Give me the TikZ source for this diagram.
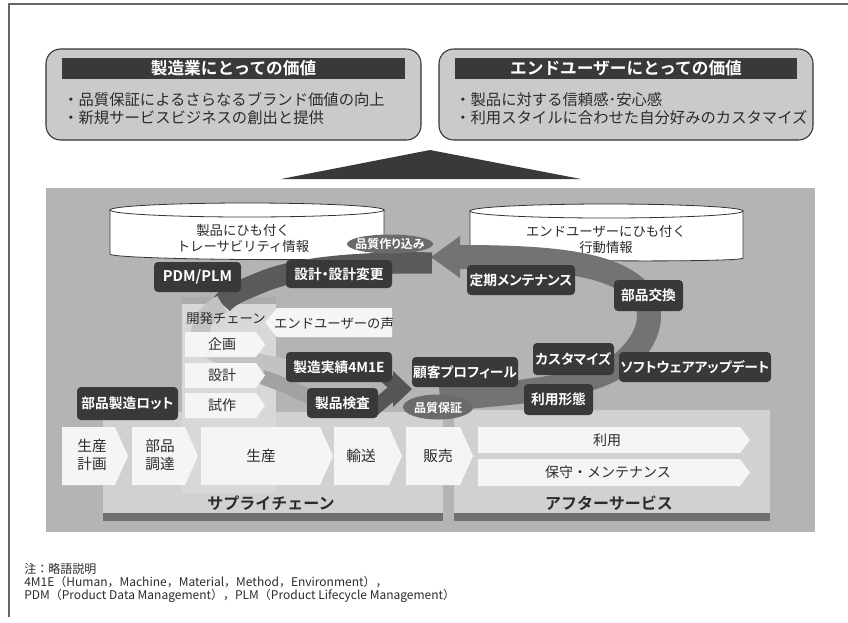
\documentclass[tikz,border=0pt]{standalone}
\usepackage{fontspec}
\setmainfont{Noto Sans CJK JP}[BoldFont={Noto Sans CJK JP Bold}]
\newfontfamily\pfont{Noto Sans CJK JP}[BoldFont={Noto Sans CJK JP Bold},RawFeature={+palt}]
\usetikzlibrary{shapes.geometric}
\definecolor{dk}{HTML}{3B3838}
\definecolor{dkline}{HTML}{333333}
\definecolor{bgc}{HTML}{B4B4B4}
\definecolor{vboxc}{HTML}{C9CACA}
\definecolor{panelc}{HTML}{D1D1D1}
\definecolor{devc}{HTML}{D8D8D8}
\definecolor{devtop}{HTML}{ABABAB}
\definecolor{chevc}{HTML}{F5F5F5}
\definecolor{barc}{HTML}{707070}
\definecolor{loopc}{HTML}{737373}
\definecolor{bandA}{HTML}{5A5A5A}
\definecolor{arcB}{HTML}{C2C2C2}
\definecolor{bandC}{HTML}{A2A2A2}
\definecolor{bandD}{HTML}{555555}
\definecolor{ellc}{HTML}{6B6B6B}
\definecolor{framec}{HTML}{666666}
\definecolor{txtc}{HTML}{2B2B2B}
\newcommand{\chevpath}[5]{\fill[chevc] (#1,#2) -- ({#3-#5},#2) -- (#3,{(#2+#4)/2}) -- ({#3-#5},#4) -- (#1,#4) -- cycle;}
\tikzset{
  darkbox/.style={fill=dk, rounded corners=3pt, text=white, font=\pfont\bfseries\fontsize{10.3}{12}\selectfont, inner sep=0pt},
  vbox/.style={draw=dkline, fill=vboxc, rounded corners=11pt, line width=0.8pt, inner sep=0pt},
  headbar/.style={fill=dk, text=white, font=\bfseries\fontsize{12.5}{14}\selectfont, inner sep=0pt},
  bullets/.style={font=\fontsize{11.5}{13.5}\selectfont, align=left, inner sep=0pt, text=txtc},
  cyltext/.style={font=\fontsize{10}{12}\selectfont, align=center, inner sep=0pt, text=txtc},
  chevtext/.style={font=\fontsize{10.5}{13.5}\selectfont, align=center, inner sep=0pt, text=txtc},
  elltext/.style={font=\pfont\bfseries\fontsize{9}{10}\selectfont, text=white, inner sep=0pt},
  biglabel/.style={font=\bfseries\fontsize{12}{14}\selectfont, text=txtc, inner sep=0pt},
  foot/.style={font=\fontsize{9}{10}\selectfont, align=left, inner sep=0pt, text=txtc},
  cyl/.style={fill=white, draw=dkline, line width=0.6pt}
}
\begin{document}
\begin{tikzpicture}[x=0.75pt,y=-0.75pt]
\useasboundingbox (0,0) rectangle (848,622);
\fill[white] (0,0) rectangle (848,622);
% frame
\draw[framec, line width=0.9pt] (848,4) -- (9,4) -- (9,617);

% value boxes
\node[vbox, minimum width=281.25pt, minimum height=68.25pt] (mfg) at (233.5,94.5) {};
\node[vbox, minimum width=280.5pt, minimum height=68.25pt] (usr) at (626,94.5) {};
\node[headbar, minimum width=257.25pt, minimum height=15.75pt] (mfghead) at (233.5,68.5) {製造業にとっての価値};
\node[headbar, minimum width=256.5pt, minimum height=15.75pt] (usrhead) at (626,68.5) {エンドユーザーにとっての価値};
\node[bullets, anchor=west] (mfgtxt) at (63,109) {・品質保証によるさらなるブランド価値の向上\\・新規サービスビジネスの創出と提供};
\node[bullets, anchor=west] (usrtxt) at (455,109) {・製品に対する信頼感･安心感\\・利用スタイルに合わせた自分好みのカスタマイズ};

% triangle
\fill[dk] (281,179) -- (430,150) -- (581,179) -- cycle;

% main gray area
\fill[bgc] (46,188) rectangle (815,532);

% cylinders
\filldraw[cyl] (110,210) -- (110,254) .. controls (110,260) and (384,262) .. (384,256) -- (384,210) -- cycle;
\filldraw[cyl] (247,210) ellipse [x radius=137, y radius=7];
\filldraw[cyl] (470,211) -- (470,256) .. controls (470,261) and (743,263) .. (743,258) -- (743,211) -- cycle;
\filldraw[cyl] (606.5,211) ellipse [x radius=136.5, y radius=7];
\node[cyltext] (cylL) at (243,238) {製品にひも付く\\トレーサビリティ情報};
\node[cyltext] (cylR) at (606,239) {エンドユーザーにひも付く\\行動情報};

% panels
\fill[panelc] (103,412) rectangle (443,513);
\fill[barc] (103,513) rectangle (443,521);
\fill[panelc] (454,410) rectangle (770,513);
\fill[barc] (454,513) rectangle (770,521);
\fill[devc] (182,297) rectangle (276,493);
\fill[devtop] (182,297) rectangle (276,304);

% bands
\draw[loopc, line width=18pt] (440,399) .. controls (530,392) and (600,386) .. (628,358) .. controls (656,330) and (656,300) .. (628,282) .. controls (595,260) and (530,257) .. (458,257);
\fill[loopc] (460,236) -- (431,257) -- (460,278) -- cycle;
\draw[bandA, line width=16pt] (432,263) .. controls (370,262) and (300,266) .. (262,282) .. controls (240,291) and (228,296) .. (222,304);
\draw[arcB, line width=14pt] (222,304) .. controls (190,322) and (192,352) .. (240,360) .. controls (260,363) and (275,366) .. (292,370);
\draw[bandC, line width=11pt] (262,377) .. controls (280,383) and (295,390) .. (312,398);
\draw[bandD, line width=11pt] (372,410) -- (396,390);
\draw[bandD, line width=9pt] (385,377) -- (396,387);
\fill[bandD] (393,371) -- (412,389) -- (393,407) -- cycle;

% ellipses
\fill[ellc] (390,244) ellipse [x radius=43, y radius=9.5];
\node[elltext] (tsukuri) at (390,244) {品質作り込み};
\fill[ellc] (438,407) ellipse [x radius=35, y radius=12.5];
\node[elltext] (hosho) at (438,407.5) {品質保証};

% development chain
\node[font=\fontsize{10}{12}\selectfont, text=txtc, inner sep=0pt, anchor=west] (devchain) at (186,318) {開発チェーン};
\fill[chevc] (265,322.5) -- (277,308) -- (392,308) -- (392,337) -- (277,337) -- cycle;
\node[font=\fontsize{10}{12}\selectfont, text=txtc, inner sep=0pt] (voice) at (334,323) {エンドユーザーの声};
\chevpath{185}{332}{265}{357}{9}
\node[chevtext] (kikaku) at (222,344.5) {企画};
\chevpath{185}{363}{265}{388}{9}
\node[chevtext] (sekkei) at (222,375.5) {設計};
\chevpath{185}{393}{265}{418}{9}
\node[chevtext] (shisaku) at (222,405.5) {試作};

% supply chain chevrons
\chevpath{62}{427}{128}{485}{13}
\node[chevtext, font=\fontsize{11}{13.5}\selectfont] (keikaku) at (92,455) {生産\\計画};
\chevpath{132}{427}{198}{485}{13}
\node[chevtext, font=\fontsize{11}{13.5}\selectfont] (chotatsu) at (160,455) {部品\\調達};
\chevpath{201}{427}{333}{485}{13}
\node[chevtext, font=\fontsize{11}{13.5}\selectfont] (seisan) at (261,456) {生産};
\chevpath{334}{427}{402}{485}{13}
\node[chevtext, font=\fontsize{11}{13.5}\selectfont] (yuso) at (361,456) {輸送};
\chevpath{406}{427}{473}{485}{13}
\node[chevtext, font=\fontsize{11}{13.5}\selectfont] (hanbai) at (438,456) {販売};
\chevpath{478}{427}{750}{453}{10}
\node[chevtext] (riyo) at (607,440) {利用};
\chevpath{478}{459}{750}{486}{10}
\node[chevtext] (hoshu) at (608,472.5) {保守・メンテナンス};
\node[biglabel] (supply) at (271,503) {サプライチェーン};
\node[biglabel] (after) at (609,503) {アフターサービス};

% dark boxes
\node[darkbox, minimum width=65.25pt, minimum height=22.5pt, font=\pfont\bfseries\fontsize{11}{12}\selectfont] (pdm) at (197.5,277) {PDM/PLM};
\node[darkbox, minimum width=79.5pt, minimum height=21pt] (henko) at (339,274) {設計・設計変更};
\node[darkbox, minimum width=79.5pt, minimum height=22.5pt] (jisseki) at (339,367) {製造実績4M1E};
\node[darkbox, minimum width=53.25pt, minimum height=22.5pt] (kensa) at (342.5,403) {製品検査};
\node[darkbox, minimum width=75.75pt, minimum height=24.75pt] (lot) at (127.5,403.5) {部品製造ロット};
\node[darkbox, minimum width=79.5pt, minimum height=22.5pt] (kokyaku) at (465,372) {顧客プロフィール};
\node[darkbox, minimum width=81pt, minimum height=22.5pt] (teiki) at (521,280) {定期メンテナンス};
\node[darkbox, minimum width=51.75pt, minimum height=23.25pt] (koukan) at (648.5,295.5) {部品交換};
\node[darkbox, minimum width=60.75pt, minimum height=24pt] (custom) at (573.5,359) {カスタマイズ};
\node[darkbox, minimum width=114pt, minimum height=22.5pt] (soft) at (695,367) {ソフトウェアアップデート};
\node[darkbox, minimum width=51.75pt, minimum height=23.25pt] (keitai) at (558.5,399.5) {利用形態};

% footer
\node[foot, anchor=west] (note) at (24,583) {注：略語説明\\4M1E（Human，Machine，Material，Method，Environment），\\PDM（Product Data Management），PLM（Product Lifecycle Management）};
\end{tikzpicture}
\end{document}
